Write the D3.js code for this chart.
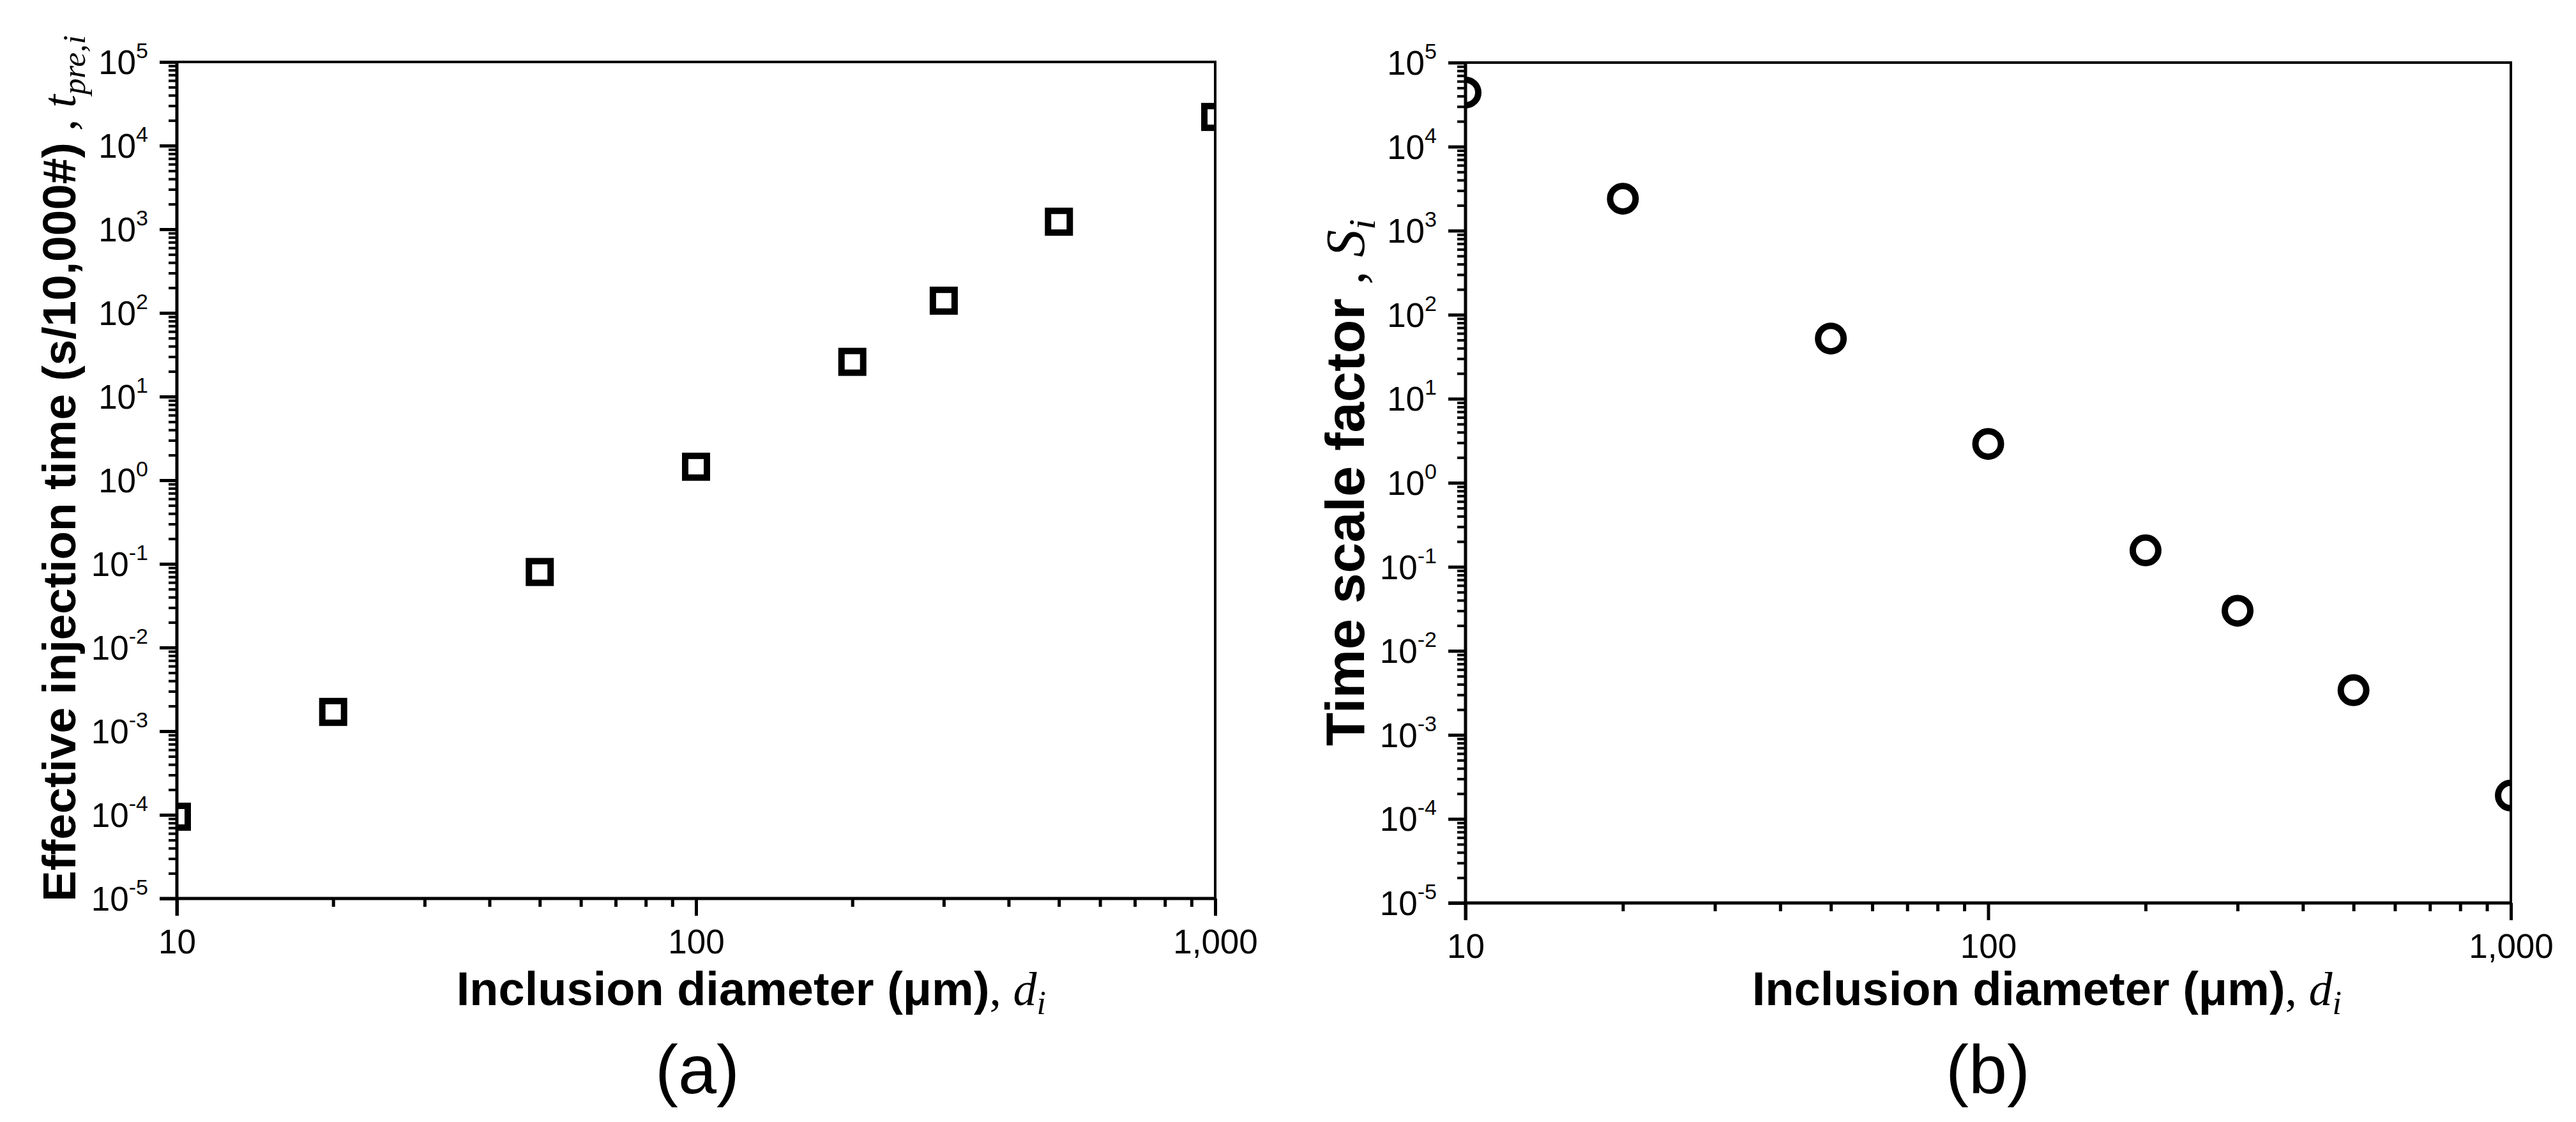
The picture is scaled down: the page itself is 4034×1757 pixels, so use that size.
<!DOCTYPE html>
<html><head><meta charset="utf-8">
<script src="https://cdn.jsdelivr.net/npm/d3@7"></script>
<style>body{margin:0;background:#fff}</style>
</head><body>
<svg id="chart" width="4034" height="1757" xmlns="http://www.w3.org/2000/svg"></svg>
<script>
// ---- data ----
const diameters = [10, 20, 50, 100, 200, 300, 500, 1000];
const injectionTime = [9.5e-5, 1.7e-3, 0.08, 1.45, 26, 140, 1230, 22000];
const timeScaleFactor = [44000, 2400, 52, 2.9, 0.157, 0.03, 0.0034, 1.9e-4];
const xTickValues = [10, 100, 1000];
const xTickLabels = ["10", "100", "1,000"];
const yExponents = [-5, -4, -3, -2, -1, 0, 1, 2, 3, 4, 5];
const panelLabels = ["(a)", "(b)"];

const svg = d3.select("#chart");
svg.append("rect").attr("width", 4034).attr("height", 1757).attr("fill", "#fff");

const SANS = "'Liberation Sans', Arial, sans-serif";
const SERIF = "'Liberation Serif', 'Times New Roman', serif";

const panels = [
  { x0: 277, x1: 1903, y0: 97, y1: 1407, values: injectionTime, marker: "square",
    ytitle: "Effective injection time (s/10,000#)", ysym: "t", ysub: "pre,i",
    yFont: 73, ytitleX: 118, ytitleY: 1412, yAnchor: "start",
    label: panelLabels[0], labelX: 1092 },
  { x0: 2295, x1: 3932, y0: 98, y1: 1414, values: timeScaleFactor, marker: "circle",
    ytitle: "Time scale factor", ysym: "S", ysub: "i",
    yFont: 86, ytitleX: 2136, ytitleY: 343, yAnchor: "end",
    label: panelLabels[1], labelX: 3113 }
];

panels.forEach((p, pi) => {
  const g = svg.append("g");
  const x = d3.scaleLog().domain([10, 1000]).range([p.x0, p.x1]);
  const y = d3.scaleLog().domain([1e-5, 1e5]).range([p.y1, p.y0]);

  const cid = "clip" + pi;
  svg.append("defs").append("clipPath").attr("id", cid)
    .append("rect").attr("x", p.x0).attr("y", p.y0)
    .attr("width", p.x1 - p.x0).attr("height", p.y1 - p.y0);

  // minor ticks
  const xMinor = [];
  [10, 100].forEach(b => { for (let k = 2; k <= 9; k++) xMinor.push(b * k); });
  const yMinor = [];
  yExponents.slice(0, -1).forEach(e => { for (let k = 2; k <= 9; k++) yMinor.push(k * Math.pow(10, e)); });

  const xAxisMinor = g.append("g").attr("transform", `translate(0,${p.y1})`)
    .call(d3.axisBottom(x).tickValues(xMinor).tickSize(13).tickSizeOuter(0).tickFormat(""));
  xAxisMinor.select(".domain").remove();
  xAxisMinor.selectAll("line").attr("stroke", "#000").attr("stroke-width", 5);

  const yAxisMinor = g.append("g").attr("transform", `translate(${p.x0},0)`)
    .call(d3.axisLeft(y).tickValues(yMinor).tickSize(13).tickSizeOuter(0).tickFormat(""));
  yAxisMinor.select(".domain").remove();
  yAxisMinor.selectAll("line").attr("stroke", "#000").attr("stroke-width", 4);

  // major axes
  const xAxis = g.append("g").attr("transform", `translate(0,${p.y1})`)
    .call(d3.axisBottom(x).tickValues(xTickValues).tickSize(27).tickSizeOuter(0)
      .tickPadding(21).tickFormat((d, i) => xTickLabels[i]));
  xAxis.select(".domain").attr("stroke", "#000").attr("stroke-width", 5)
    .attr("d", `M${p.x0 - 27},0H${p.x1}`);
  xAxis.selectAll("line").attr("stroke", "#000").attr("stroke-width", 5);
  xAxis.selectAll("text").attr("fill", "#000").attr("font-family", SANS).attr("font-size", 53);

  const yAxis = g.append("g").attr("transform", `translate(${p.x0},0)`)
    .call(d3.axisLeft(y).tickValues(yExponents.map(e => Math.pow(10, e)))
      .tickSize(27).tickSizeOuter(0).tickFormat(""));
  yAxis.select(".domain").attr("stroke", "#000").attr("stroke-width", 5)
    .attr("d", `M0,${p.y0}V${p.y1 + 27}`);
  yAxis.selectAll("line").attr("stroke", "#000").attr("stroke-width", 5);

  // y tick labels 10^e
  yExponents.forEach(e => {
    const t = g.append("text").attr("x", p.x0 - 45).attr("y", y(Math.pow(10, e)))
      .attr("text-anchor", "end").attr("font-family", SANS).attr("fill", "#000");
    t.append("tspan").attr("font-size", 53).attr("dy", "0.36em").text("10");
    t.append("tspan").attr("font-size", 34).attr("dy", -25).text(String(e));
  });

  // top & right border
  g.append("line").attr("x1", p.x0).attr("x2", p.x1 + 2).attr("y1", p.y0).attr("y2", p.y0)
    .attr("stroke", "#000").attr("stroke-width", 4);
  g.append("line").attr("x1", p.x1).attr("x2", p.x1).attr("y1", p.y0).attr("y2", p.y1)
    .attr("stroke", "#000").attr("stroke-width", 4);

  // markers
  const mg = g.append("g").attr("clip-path", `url(#${cid})`);
  const pts = diameters.map((d, i) => ({ d, v: p.values[i] }));
  if (p.marker === "square") {
    mg.selectAll("rect.m").data(pts).join("rect").attr("class", "m")
      .attr("x", d => x(d.d) - 17).attr("y", d => y(d.v) - 17)
      .attr("width", 34).attr("height", 34)
      .attr("fill", "none").attr("stroke", "#000").attr("stroke-width", 10);
  } else {
    mg.selectAll("circle.m").data(pts).join("circle").attr("class", "m")
      .attr("cx", d => x(d.d)).attr("cy", d => y(d.v)).attr("r", 20)
      .attr("fill", "none").attr("stroke", "#000").attr("stroke-width", 10);
  }

  // x title
  const xt = g.append("text").attr("x", p.x1 - 265).attr("y", 1574)
    .attr("text-anchor", "end").attr("fill", "#000");
  xt.append("tspan").attr("font-family", SANS).attr("font-weight", "bold").attr("font-size", 74)
    .text("Inclusion diameter (μm)");
  xt.append("tspan").attr("font-family", SERIF).attr("font-size", 74).text(", ");
  xt.append("tspan").attr("font-family", SERIF).attr("font-style", "italic").attr("font-size", 74).text("d");
  xt.append("tspan").attr("font-family", SERIF).attr("font-style", "italic").attr("font-size", 52)
    .attr("dy", 14).text("i");

  // y title
  const F = p.yFont;
  const yt = g.append("text").attr("transform", `translate(${p.ytitleX},${p.ytitleY}) rotate(-90)`)
    .attr("text-anchor", p.yAnchor).attr("fill", "#000");
  yt.append("tspan").attr("font-family", SANS).attr("font-weight", "bold").attr("font-size", F)
    .text(p.ytitle);
  yt.append("tspan").attr("font-family", SERIF).attr("font-size", F).text(" , ");
  yt.append("tspan").attr("font-family", SERIF).attr("font-style", "italic").attr("font-size", F).text(p.ysym);
  yt.append("tspan").attr("font-family", SERIF).attr("font-style", "italic").attr("font-size", Math.round(F * 0.7))
    .attr("dy", Math.round(F * 0.2)).text(p.ysub);

  // panel label
  svg.append("text").attr("x", p.labelX).attr("y", 1712).attr("text-anchor", "middle")
    .attr("font-family", SANS).attr("font-size", 108).attr("fill", "#000").text(p.label);
});
</script>
</body></html>
